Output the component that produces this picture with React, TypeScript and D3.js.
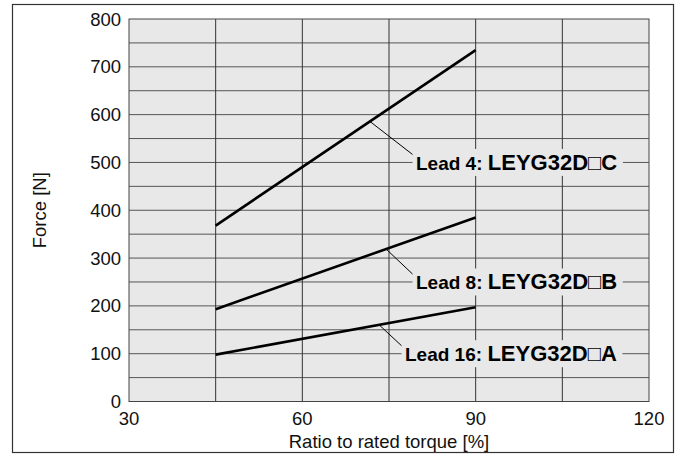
import React, { useLayoutEffect, useRef, useState } from "react";
import * as d3 from "d3";

const torqueRatio = [45, 90];
const lead4Force = [368, 735];
const lead8Force = [193, 385];
const lead16Force = [98, 197];

const xTicks = [30, 60, 90, 120];
const yTicks = [0, 100, 200, 300, 400, 500, 600, 700, 800];
const xGrid = [45, 60, 75, 90, 105];
const yGrid = d3.range(50, 800, 50);

const seriesLeads = ["Lead 4: ", "Lead 8: ", "Lead 16: "];
const seriesModels = ["LEYG32D\u25A1C", "LEYG32D\u25A1B", "LEYG32D\u25A1A"];
const seriesValues = [lead4Force, lead8Force, lead16Force];
// annotation anchors (data coordinates)
const labelY = [500, 250, 100];
const leaderX = [71.7, 74.5, 73.3];

const W = 680;
const H = 457;
const FONT = "'Liberation Sans', Arial, Helvetica, sans-serif";

export default function App() {
  const x = d3.scaleLinear().domain([30, 120]).range([129, 649]);
  const y = d3.scaleLinear().domain([0, 800]).range([401.5, 19]);
  const line = d3
    .line<[number, number]>()
    .x((d) => x(d[0]))
    .y((d) => y(d[1]));

  const textRefs = useRef<(SVGTextElement | null)[]>([]);
  const [widths, setWidths] = useState<number[]>([199, 201, 210]);
  useLayoutEffect(() => {
    const w = textRefs.current.map((t, i) => (t ? t.getBBox().width : widths[i]));
    setWidths(w);
    // eslint-disable-next-line
  }, []);

  const labelStartX = [416, 416, 405];

  const interp = (vals: number[], xv: number) =>
    vals[0] + ((xv - torqueRatio[0]) / (torqueRatio[1] - torqueRatio[0])) * (vals[1] - vals[0]);

  return (
    <svg
      width={W}
      height={H}
      style={{ position: "absolute", left: 0, top: 0, display: "block", background: "#fff" }}
      fontFamily={FONT}
    >
      <rect x={12.5} y={4.5} width={661} height={448} fill="#fff" stroke="#333" strokeWidth={1.2} />
      <rect
        x={x(30)}
        y={y(800)}
        width={x(120) - x(30)}
        height={y(0) - y(800)}
        fill="#e7e8e7"
      />
      {yGrid.map((v) => (
        <line key={"h" + v} x1={x(30)} x2={x(120)} y1={y(v)} y2={y(v)} stroke="#555" strokeWidth={1} />
      ))}
      {xGrid.map((v) => (
        <line key={"v" + v} x1={x(v)} x2={x(v)} y1={y(0)} y2={y(800)} stroke="#333" strokeWidth={1} />
      ))}
      <rect
        x={x(30)}
        y={y(800)}
        width={x(120) - x(30)}
        height={y(0) - y(800)}
        fill="none"
        stroke="#444"
        strokeWidth={1}
      />
      {/* label backgrounds */}
      {seriesLeads.map((_, i) => (
        <rect
          key={"bg" + i}
          x={labelStartX[i] - 3.5}
          y={y(labelY[i]) - 13.5}
          width={widths[i] + 9}
          height={27}
          fill="#e7e8e7"
        />
      ))}
      {/* data lines */}
      {seriesValues.map((vals, i) => (
        <path
          key={"s" + i}
          d={line(torqueRatio.map((t, j) => [t, vals[j]] as [number, number])) || ""}
          fill="none"
          stroke="#000"
          strokeWidth={2.6}
        />
      ))}
      {/* leaders */}
      {seriesValues.map((vals, i) => (
        <line
          key={"l" + i}
          x1={x(leaderX[i])}
          y1={y(interp(vals, leaderX[i]))}
          x2={labelStartX[i] - 3.5}
          y2={y(labelY[i]) - 8}
          stroke="#000"
          strokeWidth={1}
        />
      ))}
      {seriesLeads.map((lead, i) => (
        <text
          key={"t" + i}
          ref={(el) => {
            textRefs.current[i] = el;
          }}
          x={labelStartX[i]}
          y={y(labelY[i]) + 7.5}
          fontWeight="bold"
          fill="#000"
        >
          <tspan fontSize={19}>{lead}</tspan>
          <tspan fontSize={22}>{seriesModels[i]}</tspan>
        </text>
      ))}
      {/* axes labels */}
      {yTicks.map((v) => (
        <text key={"yt" + v} x={121} y={y(v) + 6.5} textAnchor="end" fontSize={18.5} fill="#111">
          {v}
        </text>
      ))}
      {xTicks.map((v) => (
        <text key={"xt" + v} x={x(v)} y={424.5} textAnchor="middle" fontSize={18.5} fill="#111">
          {v}
        </text>
      ))}
      <text x={x(75)} y={448} textAnchor="middle" fontSize={18.5} fill="#111">
        Ratio to rated torque [%]
      </text>
      <text
        transform={`translate(46, ${(y(0) + y(800)) / 2}) rotate(-90)`}
        textAnchor="middle"
        fontSize={18.5}
        fill="#111"
      >
        Force [N]
      </text>
    </svg>
  );
}
